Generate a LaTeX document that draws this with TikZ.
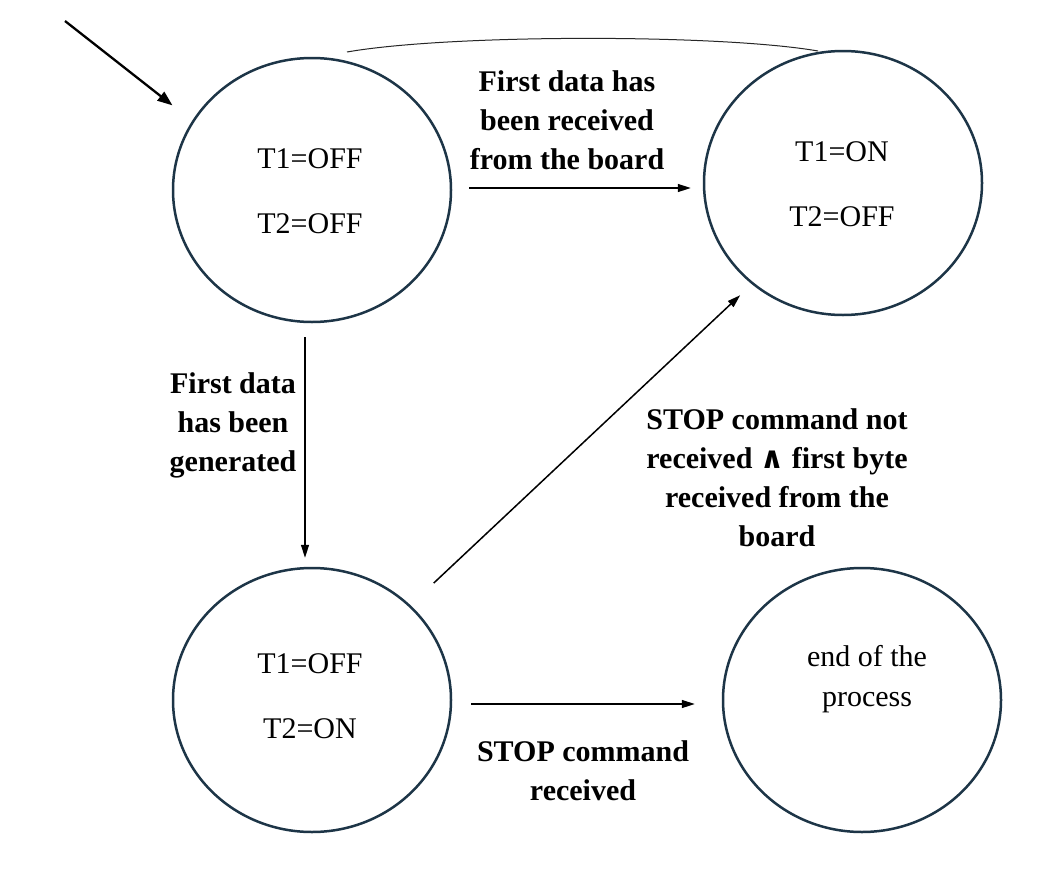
\documentclass[tikz,border=0pt]{standalone}
\usepackage{fontspec}
\setmainfont{Liberation Serif}
\newfontfamily\symfont{DejaVu Serif}
\usetikzlibrary{shapes.geometric,arrows.meta}
\definecolor{stateblue}{HTML}{1D3547}
\tikzset{
  statebox/.style={ellipse, draw=stateblue, line width=2.5pt, minimum width=278pt, minimum height=264pt, inner sep=0pt},
  arr/.style={draw=black, line width=1.5pt, -{Triangle[length=13pt,width=8pt]}},
  initarr/.style={draw=black, line width=2.3pt, -{Triangle[length=15pt,width=11pt]}},
  stxt/.style={align=center, font=\fontsize{30}{65}\selectfont, inner sep=0pt},
  lbl/.style={align=center, font=\fontsize{30}{39}\selectfont\bfseries, inner sep=0pt},
}
\begin{document}
\begin{tikzpicture}[x=1pt,y=-1pt]
\useasboundingbox[fill=white] (0,0) rectangle (1050,878);
% states
\node[statebox] (s1) at (312,190) {};
\node[statebox] (s2) at (843,183) {};
\node[statebox] (s3) at (312,700) {};
\node[statebox] (s4) at (862,700) {};
% state texts
\node[stxt] (t1) at (310,191) {T1=OFF\\T2=OFF};
\node[stxt] (t2) at (842,184) {T1=ON\\T2=OFF};
\node[stxt] (t3) at (310,696) {T1=OFF\\T2=ON};
\node[stxt, font=\fontsize{30}{40}\selectfont] (t4) at (867,679) {end of the\\process};
% initial arrow
\coordinate (init) at (65,21);
\draw[initarr, shorten >=25pt] (init) -- (s1.150);
% top arc (no arrow head)
\draw[line width=1pt, black!85] ([shift={(35pt,138pt)}]s1.center) .. controls ([shift={(138pt,156pt)}]s1.center) and ([shift={(-123pt,149pt)}]s2.center) .. ([shift={(-25pt,132pt)}]s2.center);
% transitions
\draw[arr, shorten <=17pt, shorten >=12pt] ([yshift=2pt]s1.east) -- ([yshift=2pt]s1.east -| s2.west);
\draw[arr, shorten <=14pt, shorten >=9pt] ([xshift=-7pt]s1.south) -- ([xshift=-7pt]s1.south |- s3.north);
\draw[arr, shorten <=32pt, shorten >=16pt] (s3.44) -- (s2.228);
\draw[arr, shorten <=19pt, shorten >=27pt] ([yshift=-4pt]s3.east) -- ([yshift=-4pt]s3.east -| s4.west);
% labels
\node[lbl] (l1) at (567,120) {First data has\\been received\\from the board};
\node[lbl] (l2) at (233,425) {First data\\has been\\generated};
\node[lbl] (l3) at (777,478) {STOP command not\\received {\symfont\bfseries ∧} first byte\\received from the\\board};
\node[lbl] (l4) at (583,771) {STOP command\\received};
\end{tikzpicture}
\end{document}
